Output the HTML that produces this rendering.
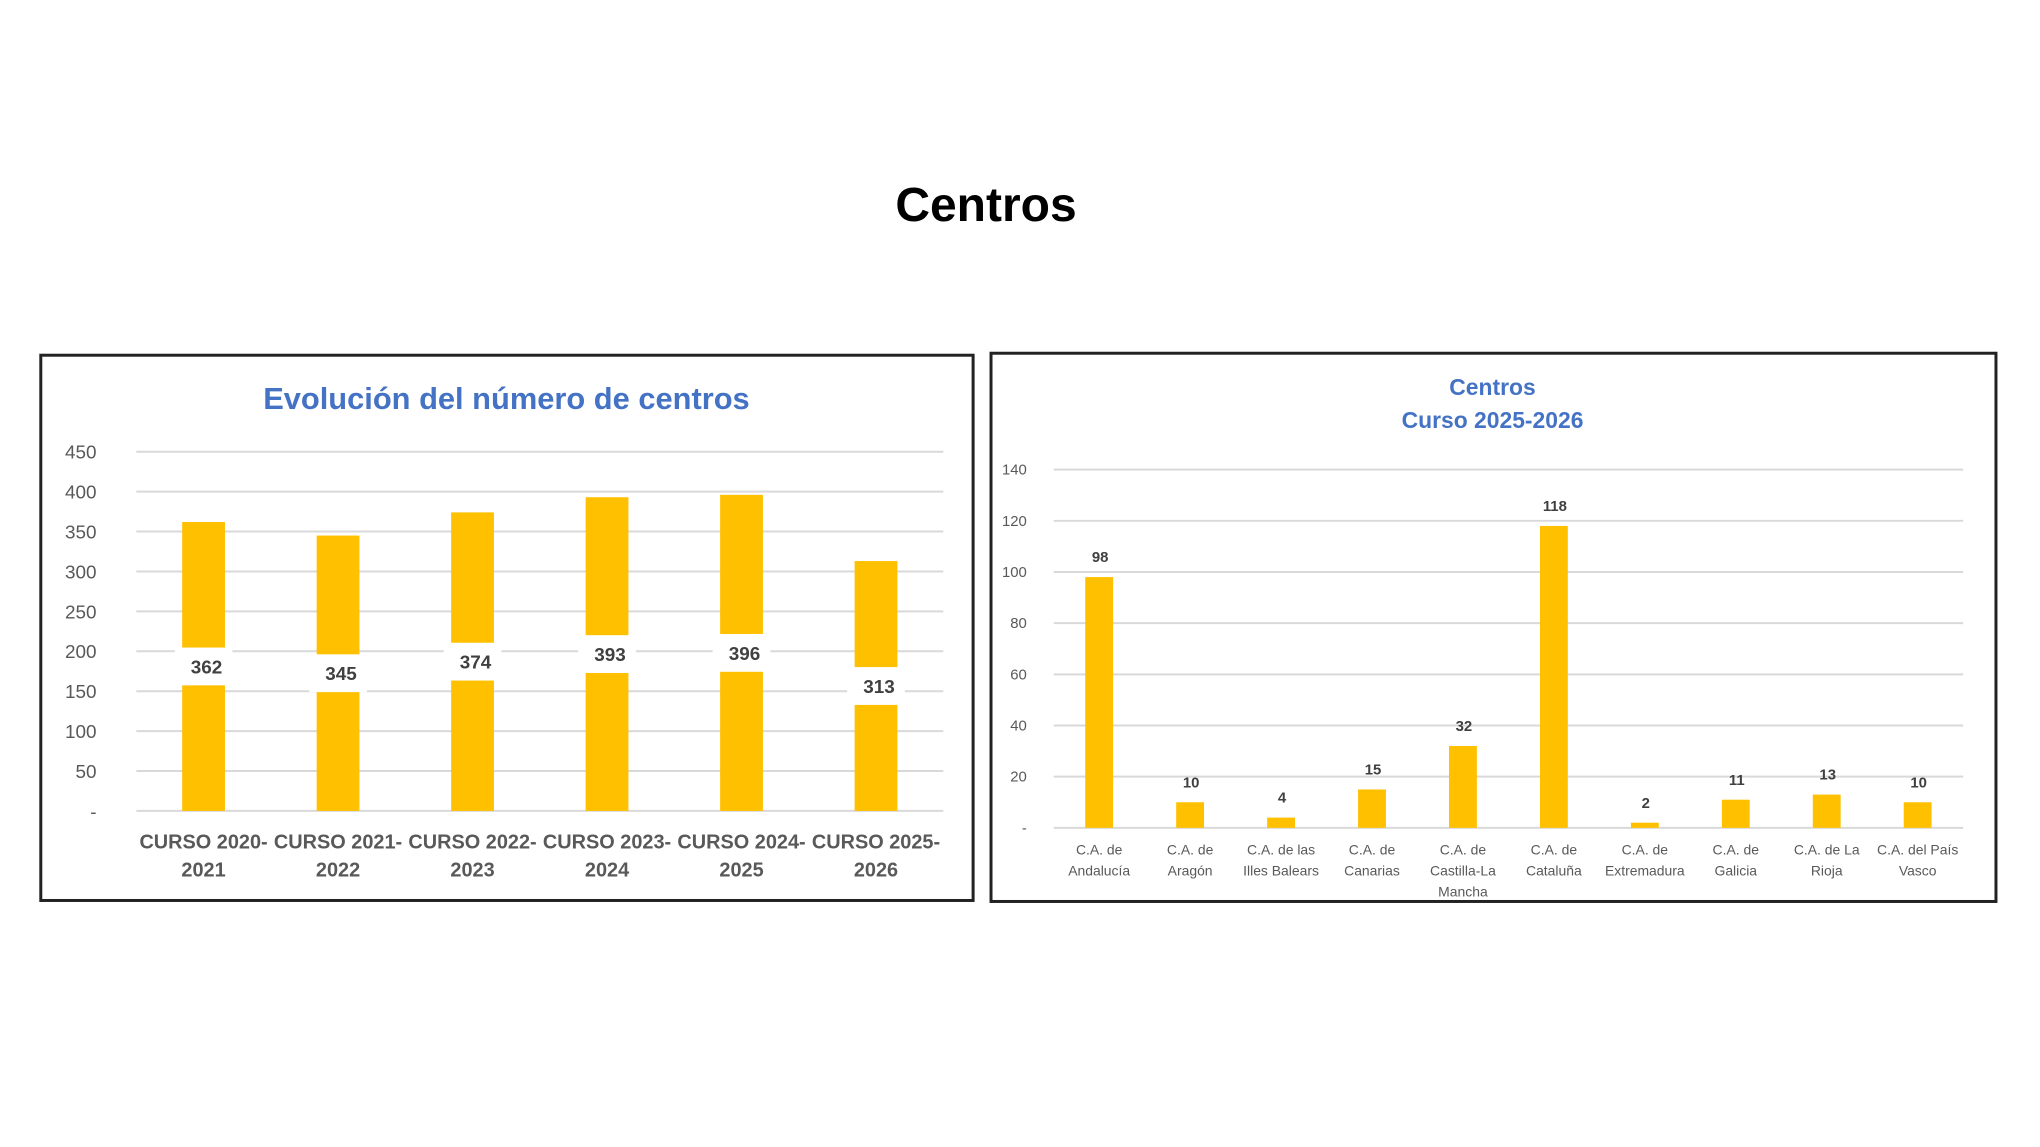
<!DOCTYPE html>
<html><head><meta charset="utf-8"><style>
html,body{margin:0;padding:0;background:#fff;}
body{width:2040px;height:1147px;position:relative;overflow:hidden;font-family:"Liberation Sans",sans-serif;}
#title{position:absolute;left:0;width:1972px;top:178px;text-align:center;font-size:48px;font-weight:bold;color:#000;}
svg{position:absolute;left:0;top:0;}
</style></head><body>
<div id="title">Centros</div>
<svg id="chart" width="2040" height="1147">
<g transform="scale(0.995)">
<rect x="41" y="357" width="937" height="548" fill="#fff" stroke="#222" stroke-width="3"/>
<rect x="996" y="355" width="1010" height="551" fill="#fff" stroke="#222" stroke-width="3"/>
<text x="509" y="411" text-anchor="middle" font-family="Liberation Sans Narrow, Liberation Sans, sans-serif" font-weight="bold" font-size="31" fill="#4472C4">Evolución del número de centros</text>
<text x="1500" y="397" text-anchor="middle" font-family="Liberation Sans Narrow, Liberation Sans, sans-serif" font-weight="bold" font-size="23" fill="#4472C4">Centros</text>
<text x="1500" y="430" text-anchor="middle" font-family="Liberation Sans Narrow, Liberation Sans, sans-serif" font-weight="bold" font-size="23" fill="#4472C4">Curso 2025-2026</text>
<g id="left"></g><g id="right"></g>
</g>
</svg>
<script>
const leftCats1 = ["CURSO 2020-","CURSO 2021-","CURSO 2022-","CURSO 2023-","CURSO 2024-","CURSO 2025-"];
const leftCats2 = ["2021","2022","2023","2024","2025","2026"];
const leftValues = [362,345,374,393,396,313];
const leftTicks = [0,50,100,150,200,250,300,350,400,450];
const leftTickLabels = ["-","50","100","150","200","250","300","350","400","450"];

const rightCats = [["C.A. de","Andalucía"],["C.A. de","Aragón"],["C.A. de las","Illes Balears"],["C.A. de","Canarias"],["C.A. de","Castilla-La","Mancha"],["C.A. de","Cataluña"],["C.A. de","Extremadura"],["C.A. de","Galicia"],["C.A. de La","Rioja"],["C.A. del País","Vasco"]];
const rightValues = [98,10,4,15,32,118,2,11,13,10];
const rightTicks = [0,20,40,60,80,100,120,140];
const rightTickLabels = ["-","20","40","60","80","100","120","140"];

const NS="http://www.w3.org/2000/svg";
function mk(parent,tag,attrs,text){const e=document.createElementNS(NS,tag);for(const k in attrs)e.setAttribute(k,attrs[k]);if(text!==undefined)e.textContent=text;parent.appendChild(e);return e;}
const NARROW="Liberation Sans Narrow, Liberation Sans, sans-serif";

(function(){
 const g=document.getElementById('left');
 const x0=137,x1=948,y0=815,yTop=454,max=450;
 const y=v=>y0-(v/max)*(y0-yTop);
 const bw=(x1-x0)/leftValues.length;
 const xc=i=>x0+bw*(i+0.5);
 leftTicks.forEach((t,i)=>{
  const l=mk(g,'line',{x1:x0,x2:x1,y1:y(t),y2:y(t),stroke:'#d9d9d9','stroke-width':2});
  
  
  const tx=mk(g,'text',{x:97,y:y(t)+7,'text-anchor':'end','font-size':19,fill:'#595959','font-family':NARROW},leftTickLabels[i]);
  
  
 });
 leftValues.forEach((v,i)=>{
  const b=mk(g,'rect',{x:xc(i)-21.5,y:y(v),width:43,height:y0-y(v),fill:'#FFC000'});
  
  
  const my=y(v/2);
  const bx=mk(g,'rect',{x:xc(i)-29,y:my-19,width:58,height:38,fill:'#fff'});
  
  
  const t=mk(g,'text',{x:xc(i)+3,y:my+7,'text-anchor':'middle','font-size':19,'font-weight':'bold',fill:'#404040','font-family':NARROW},String(v));
  
  
  const c1=mk(g,'text',{x:xc(i),y:853,'text-anchor':'middle','font-size':20,'font-weight':'bold',fill:'#595959','font-family':NARROW},leftCats1[i]);
  
  
  const c2=mk(g,'text',{x:xc(i),y:881,'text-anchor':'middle','font-size':20,'font-weight':'bold',fill:'#595959','font-family':NARROW},leftCats2[i]);
  
  
 });
})();

(function(){
 const g=document.getElementById('right');
 const x0=1059,x1=1973,y0=832,yTop=472,max=140;
 const y=v=>y0-(v/max)*(y0-yTop);
 const bw=(x1-x0)/rightValues.length;
 const xc=i=>x0+bw*(i+0.5);
 rightTicks.forEach((t,i)=>{
  const l=mk(g,'line',{x1:x0,x2:x1,y1:y(t),y2:y(t),stroke:'#d9d9d9','stroke-width':2});
  
  
  const tx=mk(g,'text',{x:1032,y:y(t)+5,'text-anchor':'end','font-size':15,fill:'#595959','font-family':NARROW},rightTickLabels[i]);
  
  
 });
 rightValues.forEach((v,i)=>{
  const b=mk(g,'rect',{x:xc(i)-14,y:y(v),width:28,height:y0-y(v),fill:'#FFC000'});
  
  
  const t=mk(g,'text',{x:xc(i)+1,y:y(v)-15,'text-anchor':'middle','font-size':15,'font-weight':'bold',fill:'#404040','font-family':NARROW},String(v));
  
  
  rightCats[i].forEach((line,j)=>{
   const c=mk(g,'text',{x:xc(i),y:859+j*21,'text-anchor':'middle','font-size':14,fill:'#595959','font-family':NARROW},line);
   
   
  });
 });
})();
</script>
</body></html>
